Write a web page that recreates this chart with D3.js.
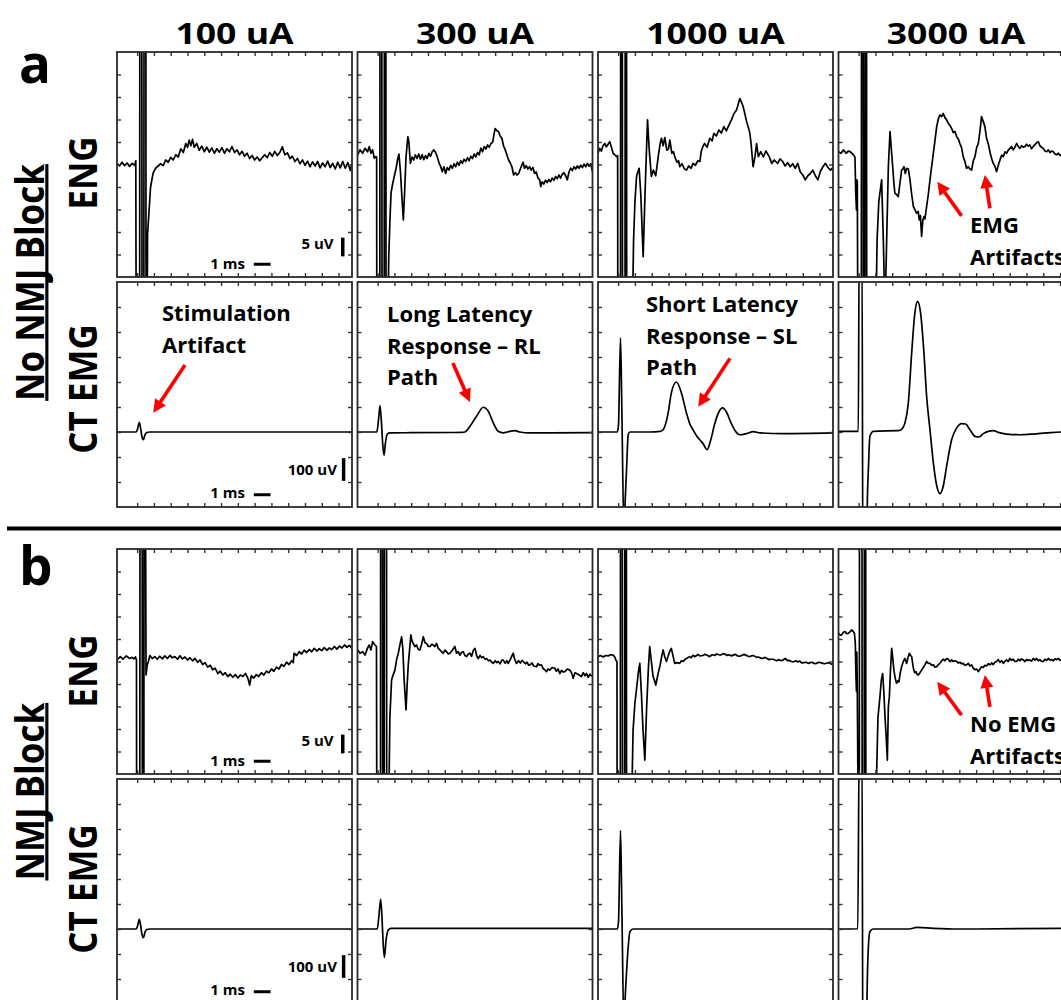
<!DOCTYPE html>
<html>
<head>
<meta charset="utf-8">
<script src="https://cdn.jsdelivr.net/npm/d3@7"></script>
<style>
body { margin: 0; background: #fff; }
text { font-family: 'Open Sans', sans-serif; font-weight: 700; fill: #000; }
</style>
</head>
<body>
<div class="chart"></div>
<script>
// stimulation currents (columns)
const currents = ['100 uA', '300 uA', '1000 uA', '3000 uA'];

// ENG, no NMJ block  [ms, uV]
const engA100 = [[-1.2,0.3],[-1.05,-0.4],[-0.9,0.6],[-0.75,-0.3],[-0.6,0.4],[-0.45,-0.5],[-0.3,0.3],[-0.15,-0.2],[-0.08,1.0],
  [-0.06,-40],[0.15,-40],[0.16,40],[0.28,40],[0.29,-40],[0.4,-40],[0.41,40],[0.52,40],[0.53,-40],[0.6,-40],
  [0.62,-18.5],[0.7,-13],[0.8,-6],[0.95,-2.3],[1.1,-1.0],[1.25,-0.4],[1.4,0.2],[1.55,-0.3],[1.7,1.2],[1.85,0.6],[2.0,1.9],[2.15,1.2],[2.3,2.6],[2.45,2.0],[2.6,4.2],[2.75,3.2],[2.9,5.6],[3.0,4.6],[3.1,6.5],[3.2,5.0],[3.3,6.7],[3.4,4.6],[3.55,5.6],[3.7,3.8],[3.85,4.9],[4.0,3.4],[4.15,4.6],[4.3,3.3],[4.45,4.4],[4.6,3.0],[4.75,4.2],[4.9,3.3],[5.05,4.5],[5.2,3.0],[5.35,4.2],[5.5,3.4],[5.65,4.8],[5.8,3.2],[5.95,3.9],[6.1,2.6],[6.25,3.5],[6.4,2.2],[6.55,3.0],[6.7,1.6],[6.85,2.4],[7.0,1.2],[7.15,2.0],[7.3,1.0],[7.45,1.8],[7.6,2.6],[7.75,1.8],[7.9,3.2],[8.05,2.2],[8.2,3.5],[8.35,2.4],[8.5,3.2],[8.65,4.7],[8.8,2.6],[8.95,3.1],[9.1,1.6],[9.25,2.2],[9.4,0.8],[9.55,1.6],[9.7,0.2],[9.85,1.2],[10.0,-0.2],[10.15,0.9],[10.3,-0.6],[10.45,0.7],[10.6,-0.4],[10.75,0.8],[10.9,-0.9],[11.05,0.4],[11.2,-0.6],[11.35,0.9],[11.5,-0.8],[11.65,0.3],[11.8,-1.2],[11.95,0.6],[12.1,-0.9],[12.25,0.8],[12.4,-1.0],[12.55,0.5],[12.7,-1.6],[12.8,0.2]];

const engA300 = [[-1.2,2.5],[-1.05,3.9],[-0.9,3.0],[-0.75,4.3],[-0.6,3.4],[-0.5,4.8],[-0.4,3.0],[-0.3,3.9],[-0.2,1.7],[-0.1,2.1],[-0.06,2.0],
  [-0.05,-40],[0.13,-40],[0.14,40],[0.25,40],[0.26,-40],[0.39,-40],[0.4,40],[0.49,40],[0.5,-40],[0.62,-40],
  [0.66,-25],[0.74,-13.9],[0.8,-7.5],[0.9,-5.0],[1.0,-3.0],[1.1,-1.0],[1.2,1.6],[1.27,2.8],[1.36,-2],[1.45,-9],[1.53,-14.8],[1.6,-8],[1.69,2],[1.8,7.4],[1.86,6],[1.95,0.3],[2.05,2.0],[2.15,1.2],[2.25,2.6],[2.35,1.6],[2.45,2.8],[2.55,1.4],[2.65,2.6],[2.75,1.3],[2.85,2.4],[2.95,1.6],[3.05,3.0],[3.15,2.2],[3.25,3.4],[3.35,3.9],[3.45,3.2],[3.55,2.1],[3.65,0.5],[3.75,-0.5],[3.85,-1.9],[3.95,-0.6],[4.05,-2.4],[4.15,-0.8],[4.25,-1.5],[4.35,-0.2],[4.45,-1.0],[4.55,0.2],[4.65,-0.6],[4.75,0.6],[4.85,-0.2],[4.95,1.0],[5.05,0.3],[5.15,1.4],[5.25,0.8],[5.35,1.8],[5.45,1.0],[5.55,2.2],[5.65,1.6],[5.75,2.8],[5.85,2.0],[5.95,3.2],[6.05,2.6],[6.15,4.4],[6.25,3.4],[6.35,4.8],[6.45,4.1],[6.55,5.2],[6.65,4.6],[6.75,5.6],[6.85,5.9],[6.95,8.5],[7.0,9.6],[7.1,9.0],[7.2,8.8],[7.3,7.6],[7.4,7.0],[7.5,5.0],[7.6,3.9],[7.7,2.6],[7.8,1.2],[7.9,0.4],[8.0,-0.6],[8.1,-2.8],[8.2,-2.2],[8.3,-2.8],[8.4,-2.4],[8.5,-1.2],[8.6,-0.1],[8.67,0.6],[8.75,-1.0],[8.85,-0.3],[8.95,-1.2],[9.05,-0.6],[9.15,-1.5],[9.25,-0.8],[9.35,-2.4],[9.45,-2.0],[9.55,-3.6],[9.65,-4.1],[9.72,-5.9],[9.8,-4.6],[9.9,-5.2],[10.0,-4.2],[10.1,-4.8],[10.2,-4.0],[10.3,-4.6],[10.4,-3.6],[10.5,-4.2],[10.6,-3.2],[10.7,-3.8],[10.8,-2.8],[10.9,-3.6],[11.0,-2.6],[11.1,-2.2],[11.2,-3.0],[11.3,-4.1],[11.4,-2.0],[11.5,-1.0],[11.6,-1.6],[11.7,-0.6],[11.8,-1.2],[11.9,-0.4],[12.0,-1.0],[12.1,-0.2],[12.2,-0.8],[12.3,0.1],[12.4,-0.6],[12.5,0.3],[12.6,-0.5],[12.7,0.2],[12.8,-1.9]];

const engA1000 = [[-1.2,3.0],[-1.1,4.3],[-1.0,3.6],[-0.9,5.0],[-0.8,5.6],[-0.7,4.7],[-0.6,5.4],[-0.5,6.1],[-0.4,4.6],[-0.3,3.0],[-0.2,2.6],[-0.1,2.1],[-0.03,2.4],
  [-0.02,-40],[0.14,-40],[0.15,40],[0.25,40],[0.26,-40],[0.41,-40],[0.42,40],[0.5,40],[0.51,-40],[0.85,-40],
  [0.92,-20],[1.0,-10],[1.1,-3],[1.25,-1.0],[1.35,-8],[1.49,-24.6],[1.6,-8],[1.75,11.9],[1.85,4],[1.98,-3.2],[2.1,-1.5],[2.24,-3.0],[2.4,2.5],[2.5,5.5],[2.58,7.0],[2.68,5.0],[2.78,7.2],[2.9,3.8],[3.0,4.2],[3.08,6.5],[3.2,3.0],[3.3,3.4],[3.37,2.1],[3.5,0.6],[3.6,1.0],[3.67,-0.6],[3.8,0.2],[3.95,-1.2],[4.07,-1.5],[4.2,-0.4],[4.35,-1.0],[4.46,0.3],[4.6,-0.2],[4.75,1.0],[4.87,0.8],[4.95,3.5],[5.05,4.8],[5.15,5.6],[5.3,4.6],[5.46,7.0],[5.6,6.3],[5.7,8.3],[5.85,7.6],[6.0,9.2],[6.15,8.4],[6.3,10.1],[6.45,9.0],[6.6,10.5],[6.75,11.9],[6.9,13.6],[7.05,14.5],[7.15,16.0],[7.25,17.6],[7.35,16.6],[7.45,15.4],[7.55,13.5],[7.65,11.5],[7.75,10.0],[7.84,8.5],[7.92,5.6],[8.04,-0.6],[8.15,2.1],[8.25,5.6],[8.35,2.1],[8.5,3.4],[8.65,2.0],[8.8,3.6],[9.0,2.1],[9.15,0.3],[9.3,1.2],[9.5,0.3],[9.65,1.5],[9.8,0.8],[9.95,-0.4],[10.1,0.5],[10.25,-0.6],[10.4,0.2],[10.55,-1.0],[10.7,0.3],[10.85,-2.0],[11.0,-2.8],[11.15,-4.1],[11.3,-3.0],[11.45,-2.4],[11.6,-1.5],[11.75,-3.0],[11.9,-4.1],[12.05,-1.8],[12.2,-0.6],[12.35,0.3],[12.5,-0.8],[12.65,-1.5],[12.8,-0.8]];

const engA3000 = [[-1.2,3.4],[-1.05,3.0],[-0.9,3.9],[-0.75,3.0],[-0.6,3.6],[-0.5,3.4],[-0.4,3.0],[-0.3,2.5],[-0.22,2.0],[-0.17,-8],[-0.13,-12.1],[-0.11,-4.1],[-0.08,-4.5],[-0.05,-40],
  [0.16,-40],[0.17,40],[0.27,40],[0.28,-40],[0.37,-40],[0.38,40],[0.47,40],[0.48,-40],[1.03,-40],
  [1.1,-20],[1.2,-10],[1.37,-4.1],[1.47,-20],[1.57,-40],[1.67,-20],[1.77,-0.6],[1.87,8.8],[1.95,4],[2.03,-0.6],[2.1,-5],[2.16,-7.7],[2.26,-8.0],[2.36,-8.6],[2.46,-5],[2.56,-1.5],[2.63,-1.2],[2.7,-0.6],[2.78,-2.4],[2.86,-1.0],[2.96,-1.2],[3.06,-4.1],[3.16,-8],[3.26,-11.2],[3.35,-12.0],[3.45,-13.0],[3.55,-12.5],[3.61,-14.8],[3.68,-13.6],[3.75,-19.2],[3.82,-15],[3.89,-13.9],[3.95,-14.5],[4.05,-11.2],[4.15,-8],[4.25,-4.1],[4.35,-0.5],[4.45,3.0],[4.55,6.5],[4.65,10.1],[4.75,12.2],[4.84,13.2],[4.95,12.8],[5.04,13.6],[5.14,12.5],[5.24,11.9],[5.34,11.0],[5.44,10.4],[5.54,9.6],[5.64,8.5],[5.74,8.8],[5.84,7.4],[5.94,6.8],[6.03,5.6],[6.13,4.5],[6.23,2.1],[6.33,0.8],[6.43,-1.0],[6.53,-0.6],[6.63,-1.2],[6.73,-1.5],[6.83,1.0],[6.93,2.1],[7.03,4.5],[7.13,5.6],[7.23,9],[7.32,12.8],[7.42,11.5],[7.52,10.1],[7.62,7.0],[7.72,5.6],[7.85,2.8],[7.95,1.2],[8.02,0.3],[8.12,-0.5],[8.22,-1.9],[8.32,-0.2],[8.42,1.2],[8.52,2.5],[8.62,2.1],[8.72,3.4],[8.81,3.0],[8.91,3.8],[9.01,4.3],[9.11,4.8],[9.21,3.9],[9.31,4.6],[9.41,5.6],[9.51,4.8],[9.61,4.3],[9.71,5.0],[9.81,4.6],[9.91,4.8],[10.0,5.4],[10.1,4.9],[10.2,5.2],[10.3,4.2],[10.4,4.8],[10.5,5.3],[10.6,5.8],[10.7,6.1],[10.8,5.0],[10.9,4.6],[11.0,4.3],[11.1,3.6],[11.2,3.4],[11.3,3.9],[11.4,3.2],[11.5,3.6],[11.6,3.4],[11.7,2.8],[11.8,2.6],[11.9,3.0],[12.0,2.4],[12.2,3.0],[12.4,2.5],[12.6,3.0],[12.8,2.6]];

// CT EMG, no NMJ block  [ms, uV]
const emgA100 = [[-1.2,0],[-0.05,0],[0.03,15],[0.13,42],[0.22,10],[0.28,-18],[0.37,-34],[0.47,-12],[0.57,-2],[0.75,0],[12.8,0]];
const emgA300 = [[-1.2,0],[-0.05,0],[0.06,60],[0.14,116],[0.22,50],[0.3,-50],[0.38,-103],[0.46,-50],[0.58,-8],[0.73,-4],[2,-3],[5.0,-2],[5.2,0],[5.5,25],[5.89,69],[6.29,109],[6.59,91],[6.89,40],[7.18,3],[7.48,-4],[7.88,3],[8.18,6],[8.47,0],[9.07,-4],[10.26,-4],[12.8,-3]];
const emgA1000 = [[-1.2,0],[-0.05,0],[0.02,30],[0.14,414],[0.2,200],[0.24,0],[0.34,-420],[0.42,-300],[0.5,-166],[0.6,-12],[0.7,0],[1.88,0],[2.5,3],[2.68,10],[2.98,84],[3.17,172],[3.47,220],[3.77,172],[4.07,84],[4.3,30],[4.46,10],[4.7,-20],[4.86,-34],[5.05,-50],[5.3,-78],[5.5,-40],[5.75,35],[6.0,88],[6.22,106],[6.45,88],[6.7,45],[6.95,8],[7.25,-12],[7.65,-7],[8.05,1.5],[8.45,-4],[9.84,-7],[12.8,-4]];
const emgA3000 = [[-1.2,3],[-0.1,3],[-0.02,3],[0.03,800],[0.2,800],[0.26,-800],[0.44,-800],[0.52,-300],[0.58,-166],[0.67,-19],[0.87,3],[2.46,7],[2.6,15],[2.76,40],[2.96,128],[3.16,348],[3.35,524],[3.51,575],[3.69,524],[3.89,348],[4.05,157],[4.25,10],[4.45,-136],[4.64,-232],[4.84,-271],[5.04,-239],[5.24,-151],[5.54,-34],[5.84,18],[6.13,37],[6.37,35],[6.63,10],[6.93,-19],[7.18,-22],[7.42,-7],[7.72,3],[8.02,6],[8.31,-1.5],[8.81,-9],[9.6,-12],[10.4,-9],[11.2,-4],[12.05,0],[12.8,0]];

// ENG, NMJ block  [ms, uV]
const engB100 = [[-1.2,0.4],[-1.0,1.3],[-0.85,0.6],[-0.65,1.5],[-0.45,0.8],[-0.3,1.1],[-0.2,0.7],[-0.1,1.2],[-0.04,0.4],
  [-0.03,-40],[0.16,-40],[0.17,40],[0.3,40],[0.31,-40],[0.4,-40],[0.41,40],[0.5,40],
  [0.53,-3.6],[0.6,-1.0],[0.67,0.0],[0.76,1.6],[0.9,0.8],[1.05,1.3],[1.2,0.6],[1.35,1.4],[1.5,0.7],[1.65,1.5],[1.8,0.8],[1.95,1.6],[2.1,1.0],[2.25,1.3],[2.4,0.6],[2.55,1.5],[2.7,0.7],[2.85,1.2],[3.0,0.4],[3.15,1.0],[3.3,0.2],[3.45,0.8],[3.6,-0.2],[3.75,0.4],[3.9,-0.8],[4.05,-0.3],[4.2,-1.5],[4.35,-1.0],[4.5,-2.2],[4.65,-1.8],[4.8,-3.2],[4.95,-2.6],[5.1,-3.6],[5.25,-3.0],[5.4,-4.0],[5.55,-3.4],[5.7,-4.2],[5.85,-3.5],[6.0,-4.4],[6.15,-3.6],[6.3,-4.0],[6.45,-3.2],[6.6,-4.5],[6.7,-6.3],[6.8,-3.8],[6.95,-4.4],[7.1,-3.5],[7.25,-4.0],[7.4,-3.0],[7.55,-3.6],[7.7,-2.6],[7.85,-3.0],[8.0,-2.0],[8.15,-2.6],[8.3,-1.5],[8.45,-2.0],[8.6,-0.8],[8.75,-1.3],[8.9,-0.2],[9.05,-0.8],[9.2,0.2],[9.3,-0.3],[9.35,2.2],[9.5,1.6],[9.65,2.6],[9.8,2.0],[9.95,3.0],[10.1,2.4],[10.25,3.2],[10.4,2.6],[10.55,3.5],[10.7,2.8],[10.85,3.4],[11.0,2.9],[11.15,3.7],[11.3,3.0],[11.45,3.6],[11.6,3.2],[11.75,4.0],[11.9,3.3],[12.05,4.1],[12.2,3.6],[12.35,4.4],[12.5,3.8],[12.65,4.3],[12.8,3.4]];

const engB300 = [[-1.2,3.1],[-1.05,2.2],[-0.89,2.6],[-0.75,1.7],[-0.61,3.5],[-0.5,4.4],[-0.4,3.1],[-0.3,5.3],[-0.16,4.4],[-0.07,4.0],
  [-0.05,-40],[0.17,-40],[0.18,40],[0.29,40],[0.3,-40],[0.39,-40],[0.4,40],[0.53,40],[0.54,-40],[0.66,-40],
  [0.7,-25],[0.73,-14.7],[0.8,-8],[0.83,-4.9],[0.93,-3.5],[1.03,-2.3],[1.13,0.5],[1.23,2.2],[1.33,4.5],[1.43,6.6],[1.5,3.5],[1.58,-5],[1.69,-12.9],[1.76,-6],[1.83,-0.5],[1.92,4],[1.98,7.1],[2.05,5.5],[2.12,4.8],[2.22,4.0],[2.32,4.4],[2.42,3.2],[2.52,3.1],[2.62,4.6],[2.72,6.6],[2.82,5.0],[2.92,4.8],[3.02,4.0],[3.12,4.0],[3.22,4.6],[3.31,4.4],[3.41,4.0],[3.51,4.8],[3.61,3.5],[3.71,3.1],[3.81,2.6],[3.91,2.2],[4.01,3.0],[4.11,2.6],[4.21,2.0],[4.31,2.2],[4.45,3.0],[4.6,4.0],[4.7,2.2],[4.8,2.6],[4.9,1.7],[5.0,2.4],[5.1,2.6],[5.2,1.6],[5.3,1.3],[5.4,2.0],[5.5,2.2],[5.6,1.4],[5.7,3.0],[5.8,3.5],[5.9,1.5],[5.99,0.8],[6.1,1.6],[6.2,1.0],[6.29,1.3],[6.4,0.6],[6.49,0.8],[6.6,0.2],[6.69,0.4],[6.8,-0.2],[6.89,-0.5],[7.0,0.2],[7.1,-0.3],[7.18,0.0],[7.3,-0.6],[7.4,0.4],[7.48,0.4],[7.6,-0.5],[7.7,0.2],[7.78,-0.5],[7.9,0.5],[8.0,1.5],[8.08,2.2],[8.15,0.8],[8.27,-0.5],[8.4,0.2],[8.5,-0.4],[8.6,0.3],[8.67,0.0],[8.8,-0.6],[8.9,-0.2],[9.0,-1.0],[9.07,-0.9],[9.2,-0.4],[9.3,-1.2],[9.46,-1.4],[9.55,-0.6],[9.65,-1.0],[9.76,-0.9],[9.85,-1.8],[9.95,-2.2],[10.06,-2.7],[10.15,-2.0],[10.25,-2.3],[10.4,-1.6],[10.55,-1.8],[10.65,-2.6],[10.75,-2.0],[10.85,-3.2],[10.95,-2.4],[11.05,-2.8],[11.15,-2.7],[11.3,-2.0],[11.45,-2.3],[11.55,-3.0],[11.65,-4.5],[11.75,-3.0],[11.85,-3.2],[12.0,-3.6],[12.14,-4.0],[12.25,-3.0],[12.35,-3.8],[12.44,-3.2],[12.55,-4.2],[12.65,-3.4],[12.78,-4.0]];

const engB1000 = [[-1.2,1.3],[-1.05,1.6],[-0.89,1.2],[-0.75,1.6],[-0.6,1.5],[-0.45,1.8],[-0.3,1.7],[-0.2,1.2],[-0.14,0.4],[-0.07,0.0],
  [-0.06,-40],[0.13,-40],[0.14,40],[0.25,40],[0.26,-40],[0.39,-40],[0.4,40],[0.49,40],[0.5,-40],[0.8,-40],
  [0.84,-30],[0.89,-18.3],[1.0,-11],[1.09,-7.6],[1.2,-3],[1.29,-0.5],[1.38,-8],[1.48,-18],[1.59,-26.3],[1.7,-12],[1.8,-2],[1.88,4.0],[1.98,0],[2.08,-4.0],[2.16,-5],[2.24,-6.3],[2.31,-4.8],[2.38,-3.2],[2.5,-1],[2.6,1.5],[2.68,3.1],[2.78,1.2],[2.88,0],[2.98,1.5],[3.08,2.8],[3.17,3.5],[3.27,1.5],[3.37,-0.5],[3.5,-0.3],[3.67,-0.5],[3.77,0.2],[3.87,0],[3.97,0.5],[4.07,0.8],[4.25,1.3],[4.35,1.0],[4.46,1.7],[4.55,1.3],[4.65,1.5],[4.75,1.9],[4.86,1.5],[5.05,1.6],[5.15,1.9],[5.26,1.8],[5.36,1.5],[5.46,1.3],[5.6,1.8],[5.75,1.6],[5.86,2.0],[6.0,1.8],[6.1,1.7],[6.25,2.1],[6.35,2.0],[6.5,1.6],[6.6,1.8],[6.75,1.5],[6.85,1.7],[7.0,1.9],[7.1,1.5],[7.25,1.4],[7.35,1.6],[7.5,1.9],[7.6,1.7],[7.75,1.4],[7.84,1.3],[8.0,1.6],[8.1,1.5],[8.25,1.1],[8.35,1.2],[8.5,0.9],[8.6,0.8],[8.75,1.1],[8.83,0.9],[9.0,0.5],[9.1,0.6],[9.25,0.6],[9.33,0.4],[9.45,0.2],[9.58,0.5],[9.7,0.2],[9.82,0.4],[9.95,0.8],[10.1,0.2],[10.2,0.3],[10.32,0.0],[10.45,-0.1],[10.57,0.2],[10.7,-0.1],[10.82,0.1],[10.95,-0.4],[11.06,-0.3],[11.2,-0.2],[11.32,-0.5],[11.45,-0.3],[11.56,-0.2],[11.7,-0.6],[11.81,-0.5],[11.95,-0.2],[12.06,-0.3],[12.2,-0.5],[12.3,-0.6],[12.45,-0.4],[12.55,-0.3],[12.7,-0.7],[12.8,-0.7]];

const engB3000 = [[-1.2,7.5],[-1.09,7.0],[-1.01,7.1],[-0.91,7.8],[-0.81,8.0],[-0.72,7.4],[-0.62,7.5],[-0.52,7.9],[-0.42,8.4],[-0.32,8.0],[-0.25,7.5],[-0.2,5.0],[-0.16,-4.0],[-0.13,-8],[-0.11,2.5],[-0.08,-7.6],[-0.03,-40],
  [0.04,-40],[0.05,40],[0.2,40],[0.21,-40],[0.33,-40],[0.34,40],[0.42,40],[0.43,-40],[1.0,-40],
  [1.07,-30],[1.15,-15],[1.27,-9.4],[1.35,-5],[1.43,-3.2],[1.5,-8],[1.57,-14.7],[1.64,-20],[1.71,-26.3],[1.77,-12],[1.83,-9.4],[1.9,-2],[1.97,3.5],[2.03,1],[2.1,-2.3],[2.18,-4.5],[2.26,-5.8],[2.33,-5.2],[2.4,-5.4],[2.48,-3],[2.56,-1.4],[2.66,0.0],[2.76,0.8],[2.86,-0.5],[2.94,1.0],[3.02,2.2],[3.09,1.6],[3.16,1.3],[3.26,-1.8],[3.34,-3.0],[3.41,-2.7],[3.48,-3.4],[3.55,-3.6],[3.65,-3.0],[3.75,-2.3],[3.85,-1.6],[3.95,-0.9],[4.05,0.0],[4.15,-0.5],[4.25,-0.5],[4.35,-1.0],[4.45,-0.9],[4.55,-1.5],[4.65,-1.4],[4.75,-0.8],[4.84,-0.5],[4.95,0.2],[5.04,0.6],[5.14,0.2],[5.24,0.8],[5.34,0.6],[5.44,0.0],[5.54,0.4],[5.64,0.0],[5.74,0.2],[5.84,0.0],[5.94,-0.4],[6.03,-0.2],[6.13,-0.6],[6.23,-0.5],[6.33,-1.0],[6.43,-0.9],[6.53,-0.5],[6.63,-1.2],[6.73,-0.9],[6.83,-1.8],[6.93,-2.2],[7.03,-2.0],[7.13,-2.7],[7.23,-2.0],[7.32,-1.4],[7.42,-1.6],[7.52,-1.0],[7.62,-1.2],[7.72,-0.6],[7.82,-0.9],[7.92,-0.4],[8.02,-0.8],[8.12,-0.2],[8.22,0.0],[8.32,0.5],[8.42,-0.2],[8.52,0.2],[8.62,-0.5],[8.72,0.1],[8.81,0.4],[8.91,0.0],[9.01,0.8],[9.11,0.3],[9.21,0.6],[9.31,0.0],[9.41,0.0],[9.51,0.6],[9.61,0.2],[9.71,0.7],[9.81,0.4],[9.91,0.0],[10.0,0.5],[10.1,0.3],[10.2,0.4],[10.3,0.1],[10.4,0.8],[10.5,0.4],[10.6,0.8],[10.7,0.2],[10.8,0.5],[10.9,0.0],[11.0,0.0],[11.1,0.6],[11.2,0.3],[11.3,0.8],[11.4,0.4],[11.5,0.5],[11.6,0.2],[11.7,0.7],[11.8,0.5],[11.9,0.8],[12.0,0.3],[12.2,0.6],[12.4,0.3],[12.6,0.7],[12.8,0.4]];

// CT EMG, NMJ block  [ms, uV]
const emgB100 = [[-1.2,0],[-0.05,0],[0.03,15],[0.13,42],[0.22,10],[0.28,-20],[0.37,-38],[0.47,-14],[0.57,-2],[0.75,0],[12.8,0]];
const emgB300 = [[-1.2,0],[-0.02,0],[0.08,60],[0.18,130],[0.26,50],[0.32,-50],[0.4,-125],[0.5,-50],[0.64,-4],[0.8,3],[12.8,3]];
const emgB1000 = [[-1.2,0],[-0.05,0],[0.02,30],[0.14,433],[0.2,200],[0.24,0],[0.34,-420],[0.42,-300],[0.6,-78],[0.7,-12],[0.9,0],[12.8,0]];
const emgB3000 = [[-1.2,0],[-0.05,1],[0.03,800],[0.2,800],[0.26,-800],[0.44,-800],[0.5,-300],[0.58,-78],[0.67,-12],[0.87,0],[3.0,0],[3.46,7],[4.45,3],[6.0,0],[12.8,3]];

// tick values
const msTicks = [0,1,2,3,4,5,6,7,8,9,10,11,12];
const engTicks = [-24,-18,-12,-6,0,6,12,18,24];
const emgTicks = [-220,-110,0,110,220,330,440,550];

// layout
const colX = [117, 357.5, 598, 838.5];
const rowY = [52, 282, 549, 779];
const pw = 235, ph = 225;

const svg = d3.select('.chart')
    .append('svg')
    .attr('width', 1061)
    .attr('height', 1000);

const x = d3.scaleLinear().domain([-1.2, 12.8]).range([0, pw]);
const yEng = d3.scaleLinear().domain([-30, 30]).range([ph, 0]);
const yEmg = d3.scaleLinear().domain([-330, 660]).range([ph, 0]);

const rows = [
    {traces:[engA100, engA300, engA1000, engA3000], y:yEng, ticks:engTicks, curve:d3.curveLinear, label:'ENG', labelY:173,
     bar:{ms:12.25, v:[-24.5,-19.5], text:'5 uV', tx:11.7, ty:-22.6, hv:-26.6, hty:-27.8}},
    {traces:[emgA100, emgA300, emgA1000, emgA3000], y:yEmg, ticks:emgTicks, curve:d3.curveMonotoneX, label:'CT EMG', labelY:389,
     bar:{ms:12.3, v:[-215,-115], text:'100 uV', tx:11.9, ty:-190, hv:-276, hty:-292}},
    {traces:[engB100, engB300, engB1000, engB3000], y:yEng, ticks:engTicks, curve:d3.curveLinear, label:'ENG', labelY:671,
     bar:{ms:12.25, v:[-24.5,-19.5], text:'5 uV', tx:11.7, ty:-22.6, hv:-26.6, hty:-27.8}},
    {traces:[emgB100, emgB300, emgB1000, emgB3000], y:yEmg, ticks:emgTicks, curve:d3.curveMonotoneX, label:'CT EMG', labelY:889,
     bar:{ms:12.3, v:[-215,-115], text:'100 uV', tx:11.9, ty:-190, hv:-276, hty:-292}}
];

const panels = [];
rows.forEach((row, r) => {
    panels.push([]);
    row.traces.forEach((trace, c) => {
        const g = svg.append('g')
            .attr('transform', `translate(${colX[c]},${rowY[r]})`);
        panels[r].push(g);
        const id = `clip-${r}-${c}`;
        g.append('clipPath').attr('id', id)
            .append('rect').attr('width', pw).attr('height', ph);

        const line = d3.line()
            .x(d => x(d[0]))
            .y(d => row.y(d[1]))
            .curve(row.curve);

        g.append('path')
            .datum(trace)
            .attr('clip-path', `url(#${id})`)
            .attr('d', line)
            .attr('fill', 'none')
            .attr('stroke', '#000')
            .attr('stroke-width', 1.7)
            .attr('stroke-linejoin', 'round');

        // inward ticks on all four sides
        g.append('g').call(d3.axisTop(x).tickValues(msTicks).tickSize(-4).tickFormat(''));
        g.append('g').attr('transform', `translate(0,${ph})`)
            .call(d3.axisBottom(x).tickValues(msTicks).tickSize(-4).tickFormat(''));
        g.append('g').call(d3.axisLeft(row.y).tickValues(row.ticks).tickSize(-4).tickFormat(''));
        g.append('g').attr('transform', `translate(${pw},0)`)
            .call(d3.axisRight(row.y).tickValues(row.ticks).tickSize(-4).tickFormat(''));
        g.selectAll('.domain').remove();
        g.selectAll('.tick line').attr('stroke', '#333').attr('stroke-width', 1.4);

        g.append('rect')
            .attr('width', pw).attr('height', ph)
            .attr('fill', 'none')
            .attr('stroke', '#2a2a2a')
            .attr('stroke-width', 1.8);

        // scale bars in the first column
        if (c === 0) {
            const b = row.bar;
            g.append('line')
                .attr('x1', x(b.ms)).attr('x2', x(b.ms))
                .attr('y1', row.y(b.v[0])).attr('y2', row.y(b.v[1]))
                .attr('stroke', '#000').attr('stroke-width', 3.5);
            g.append('text')
                .attr('x', x(b.tx)).attr('y', row.y(b.ty))
                .attr('text-anchor', 'end')
                .attr('font-size', 15)
                .text(b.text);
            g.append('line')
                .attr('x1', x(6.95)).attr('x2', x(7.95))
                .attr('y1', row.y(b.hv)).attr('y2', row.y(b.hv))
                .attr('stroke', '#000').attr('stroke-width', 3);
            g.append('text')
                .attr('x', x(6.42)).attr('y', row.y(b.hty))
                .attr('text-anchor', 'end')
                .attr('font-size', 15)
                .text('1 ms');
        }
    });

    // row labels
    svg.append('text')
        .attr('transform', `translate(96.7,${row.labelY}) scale(1.12,1) rotate(-90)`)
        .attr('text-anchor', 'middle')
        .attr('font-size', 35)
        .text(row.label);
});

// column titles
currents.forEach((t, c) => {
    svg.append('text')
        .attr('transform', `translate(${colX[c] + pw / 2},44) scale(1.27,1)`)
        .attr('text-anchor', 'middle')
        .attr('font-size', 28)
        .text(t);
});

// group labels (underlined)
[['No NMJ Block', 282.5], ['NMJ Block', 791.7]].forEach(([t, cy]) => {
    const lg = svg.append('g')
        .attr('transform', `translate(43.5,${cy}) scale(1.12,1) rotate(-90)`);
    const tx = lg.append('text')
        .attr('text-anchor', 'middle')
        .attr('font-size', 35)
        .text(t);
    const len = tx.node().getComputedTextLength();
    lg.append('line')
        .attr('x1', -len / 2).attr('x2', len / 2)
        .attr('y1', 3).attr('y2', 3)
        .attr('stroke', '#000').attr('stroke-width', 2.8);
});

// panel letters
svg.append('text').attr('x', 19).attr('y', 83).attr('font-size', 53).text('a');
svg.append('text').attr('x', 19).attr('y', 585).attr('font-size', 53).text('b');

// separator between a and b
svg.append('line')
    .attr('x1', 7).attr('x2', 1061)
    .attr('y1', 528.5).attr('y2', 528.5)
    .attr('stroke', '#000').attr('stroke-width', 4);

// annotations
const notes = [
    {x:162, y:320.7, lines:['Stimulation', 'Artifact']},
    {x:387, y:321.7, lines:['Long Latency', 'Response – RL', 'Path']},
    {x:646, y:311.7, lines:['Short Latency', 'Response – SL', 'Path']},
    {x:970, y:232.7, lines:['EMG', 'Artifacts']},
    {x:970, y:731.7, lines:['No EMG', 'Artifacts']}
];
notes.forEach(n => {
    n.lines.forEach((l, i) => {
        svg.append('text')
            .attr('x', n.x).attr('y', n.y + i * 31.8)
            .attr('font-size', 22)
            .text(l);
    });
});

// red arrows, in panel data coordinates [ms, uV]
const arrows = [
    {r:1, c:0, from:[2.85, 295], to:[0.96, 85]},
    {r:1, c:1, from:[4.48, 304], to:[5.5, 132]},
    {r:1, c:2, from:[6.66, 324], to:[4.77, 111]},
    {r:0, c:3, from:[6.13, -13.7], to:[4.68, -4.6]},
    {r:0, c:3, from:[7.82, -11.7], to:[7.52, -2.8]},
    {r:2, c:3, from:[6.13, -14.3], to:[4.68, -5.4]},
    {r:2, c:3, from:[7.82, -12.1], to:[7.52, -3.6]}
];
arrows.forEach(a => {
    const ys = rows[a.r].y;
    const g = panels[a.r][a.c];
    const p0 = [x(a.from[0]), ys(a.from[1])];
    const p1 = [x(a.to[0]), ys(a.to[1])];
    const dx = p1[0] - p0[0], dy = p1[1] - p0[1];
    const L = Math.hypot(dx, dy), ux = dx / L, uy = dy / L;
    const hl = 13, hw = 6.5;
    const bx = p1[0] - ux * hl, by = p1[1] - uy * hl;
    g.append('line')
        .attr('x1', p0[0]).attr('y1', p0[1])
        .attr('x2', bx + ux).attr('y2', by + uy)
        .attr('stroke', '#f00').attr('stroke-width', 3.6);
    g.append('path')
        .attr('d', `M${p1[0]},${p1[1]}L${bx - uy * hw},${by + ux * hw}L${bx + uy * hw},${by - ux * hw}Z`)
        .attr('fill', '#f00');
});
</script>
</body>
</html>
